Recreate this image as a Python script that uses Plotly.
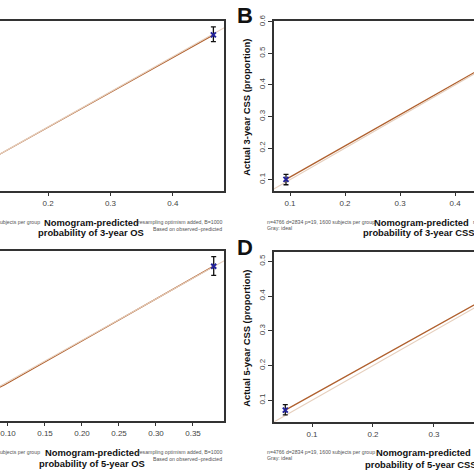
import plotly.graph_objects as go

W = H = 474

# ---------------- data ----------------
# Panel A: 3-year OS
a_pred = [0.05, 0.10, 0.465]
a_obs = [0.05, 0.10, 0.462]
a_err_hi = [0.0, 0.0, 0.023]
a_err_lo = [0.0, 0.0, 0.019]
# Panel B: 3-year CSS
b_pred = [0.0927, 0.50, 0.75]
b_obs = [0.101, 0.502, 0.75]
b_err_hi = [0.016, 0.0, 0.0]
b_err_lo = [0.017, 0.0, 0.0]
# Panel C: 5-year OS
c_pred = [0.045, 0.095, 0.378]
c_obs = [0.048, 0.092, 0.379]
c_err_hi = [0.0, 0.0, 0.023]
c_err_lo = [0.0, 0.0, 0.022]
# Panel D: 5-year CSS
d_pred = [0.0562, 0.42, 0.65]
d_obs = [0.0716, 0.428, 0.66]
d_err_hi = [0.016, 0.0, 0.0]
d_err_lo = [0.014, 0.0, 0.0]

ideal = [0.0, 1.0]

a_xticks = [0.1, 0.2, 0.3, 0.4, 0.5]
b_xticks = [0.1, 0.2, 0.3, 0.4, 0.5]
b_yticks = [0.1, 0.2, 0.3, 0.4, 0.5, 0.6]
c_xticks = [0.05, 0.10, 0.15, 0.20, 0.25, 0.30, 0.35, 0.40]
d_xticks = [0.1, 0.2, 0.3, 0.4]
d_yticks = [0.1, 0.2, 0.3, 0.4, 0.5]

n_text = "n=4766 d=2834 p=19, 1600 subjects per group"
gray_text = "Gray: ideal"
resamp_text = "resampling optimism added, B=1000"
based_text = "Based on observed\u2212predicted"

FONT = "Liberation Sans, Arial, sans-serif"
BROWN = "#b0602e"
IDEAL_C = "#e6cfbd"
AXC = "#333333"

fig = go.Figure()


def add_panel(k, pred, obs, ehi, elo, show_idx):
    xa = "x" if k == 1 else f"x{k}"
    ya = "y" if k == 1 else f"y{k}"
    fig.add_trace(go.Scatter(x=pred, y=obs, mode="lines", xaxis=xa, yaxis=ya,
                             line=dict(color=BROWN, width=1.3), hoverinfo="skip",
                             showlegend=False))
    fig.add_trace(go.Scatter(x=ideal, y=ideal, mode="lines", xaxis=xa, yaxis=ya,
                             line=dict(color=IDEAL_C, width=1.2), hoverinfo="skip",
                             showlegend=False))
    px_ = [pred[i] for i in show_idx]
    py_ = [obs[i] for i in show_idx]
    fig.add_trace(go.Scatter(x=px_, y=py_, mode="markers", xaxis=xa, yaxis=ya,
                             marker=dict(symbol="x-thin", size=5, color="#22229a",
                                         line=dict(width=2, color="#22229a")),
                             error_y=dict(type="data", symmetric=False,
                                          array=[ehi[i] for i in show_idx],
                                          arrayminus=[elo[i] for i in show_idx],
                                          color="#111111", thickness=1.3, width=2.5),
                             showlegend=False, cliponaxis=False))


add_panel(1, a_pred, a_obs, a_err_hi, a_err_lo, [2])
add_panel(2, b_pred, b_obs, b_err_hi, b_err_lo, [0])
add_panel(3, c_pred, c_obs, c_err_hi, c_err_lo, [2])
add_panel(4, d_pred, d_obs, d_err_hi, d_err_lo, [0])


def dx(p):
    return p / W


def dy(p):
    return 1 - p / H


tickfont = dict(family=FONT, size=8, color="#444444")
common_x = dict(showgrid=False, zeroline=False, showline=True, mirror=True,
                linecolor=AXC, linewidth=1.5, ticks="outside", ticklen=4,
                tickwidth=1.2, tickcolor=AXC, tickfont=tickfont)
hidden_y = dict(showgrid=False, zeroline=False, showline=True, side="right",
                linecolor=AXC, linewidth=1.5, ticks="", showticklabels=False)
shown_y = dict(showgrid=False, zeroline=False, showline=True, mirror=False,
               linecolor=AXC, linewidth=1.5, ticks="outside", ticklen=4,
               tickwidth=1.2, tickcolor=AXC, tickfont=tickfont, tickangle=-90)

fig.update_layout(
    width=W, height=H, margin=dict(l=0, r=0, t=0, b=0),
    paper_bgcolor="white", plot_bgcolor="white", showlegend=False,
    xaxis=dict(common_x, domain=[0, dx(224)], range=[0.123, 0.482], anchor="y",
               tickvals=a_xticks, ticktext=[f"{v:.1f}" for v in a_xticks]),
    yaxis=dict(hidden_y, domain=[dy(187), dy(15)], range=[0.019, 0.502], anchor="x"),
    xaxis2=dict(common_x, domain=[dx(274), 1], range=[0.0709, 0.4345], anchor="y2",
                tickvals=b_xticks, ticktext=[f"{v:.1f}" for v in b_xticks]),
    yaxis2=dict(shown_y, domain=[dy(187), dy(15)], range=[0.0653, 0.603], anchor="x2",
                tickvals=b_yticks, ticktext=[f"{v:.1f}" for v in b_yticks]),
    xaxis3=dict(common_x, domain=[0, dx(224)], range=[0.0892, 0.3919], anchor="y3",
                tickvals=c_xticks, ticktext=[f"{v:.2f}" for v in c_xticks]),
    yaxis3=dict(hidden_y, domain=[dy(420), dy(248)], range=[0.0057, 0.416], anchor="x3"),
    xaxis4=dict(common_x, domain=[dx(274), 1], range=[0.0377, 0.3656], anchor="y4",
                tickvals=d_xticks, ticktext=[f"{v:.1f}" for v in d_xticks]),
    yaxis4=dict(shown_y, domain=[dy(421), dy(249)], range=[0.0383, 0.5276], anchor="x4",
                tickvals=d_yticks, ticktext=[f"{v:.1f}" for v in d_yticks]),
)

ann = []


def txt(x, y, s, size, bold=False, xanchor="center", angle=0, color="#111111"):
    t = f"<b>{s}</b>" if bold else s
    ann.append(dict(x=dx(x), y=dy(y), xref="paper", yref="paper", text=t,
                    showarrow=False, xanchor=xanchor, yanchor="middle",
                    textangle=angle, font=dict(family=FONT, size=size, color=color)))


SMALL = 5.2
BOLD = 9.4
SC = "#555555"

# Panel labels
txt(244.5, 10, "B", 22, bold=True)
txt(244.5, 245, "D", 22, bold=True)

# Y axis titles
txt(247, 102, "Actual 3-year CSS (proportion)", 9.4, bold=True, angle=-90)
txt(247, 336, "Actual 5-year CSS (proportion)", 9.4, bold=True, angle=-90)

# Panel A bottom texts
txt(42, 219, n_text, SMALL, xanchor="right", color=SC)
txt(91, 219, "Nomogram-predicted", BOLD, bold=True)
txt(91, 229, "probability of 3-year OS", BOLD, bold=True)
txt(224, 219, resamp_text, SMALL, xanchor="right", color=SC)
txt(224, 226, based_text, SMALL, xanchor="right", color=SC)

# Panel B bottom texts
txt(265, 219, n_text, SMALL, xanchor="left", color=SC)
txt(265, 225, gray_text, SMALL, xanchor="left", color=SC)
txt(421, 219, "Nomogram-predicted", BOLD, bold=True)
txt(418, 229, "probability of 3-year CSS", BOLD, bold=True)
txt(471, 219, resamp_text, SMALL, xanchor="left", color=SC)

# Panel C bottom texts
txt(42, 452, n_text, SMALL, xanchor="right", color=SC)
txt(92, 452, "Nomogram-predicted", BOLD, bold=True)
txt(92, 463, "probability of 5-year OS", BOLD, bold=True)
txt(224, 452, resamp_text, SMALL, xanchor="right", color=SC)
txt(224, 459, based_text, SMALL, xanchor="right", color=SC)

# Panel D bottom texts
txt(265, 452, n_text, SMALL, xanchor="left", color=SC)
txt(265, 458, gray_text, SMALL, xanchor="left", color=SC)
txt(423, 452, "Nomogram-predicted", BOLD, bold=True)
txt(420, 464, "probability of 5-year CSS", BOLD, bold=True)
txt(473, 452, resamp_text, SMALL, xanchor="left", color=SC)

fig.update_layout(annotations=ann)

fig.write_html("out.html", config={"displayModeBar": False},
               post_script="document.body.style.margin='0';document.body.style.padding='0';")
